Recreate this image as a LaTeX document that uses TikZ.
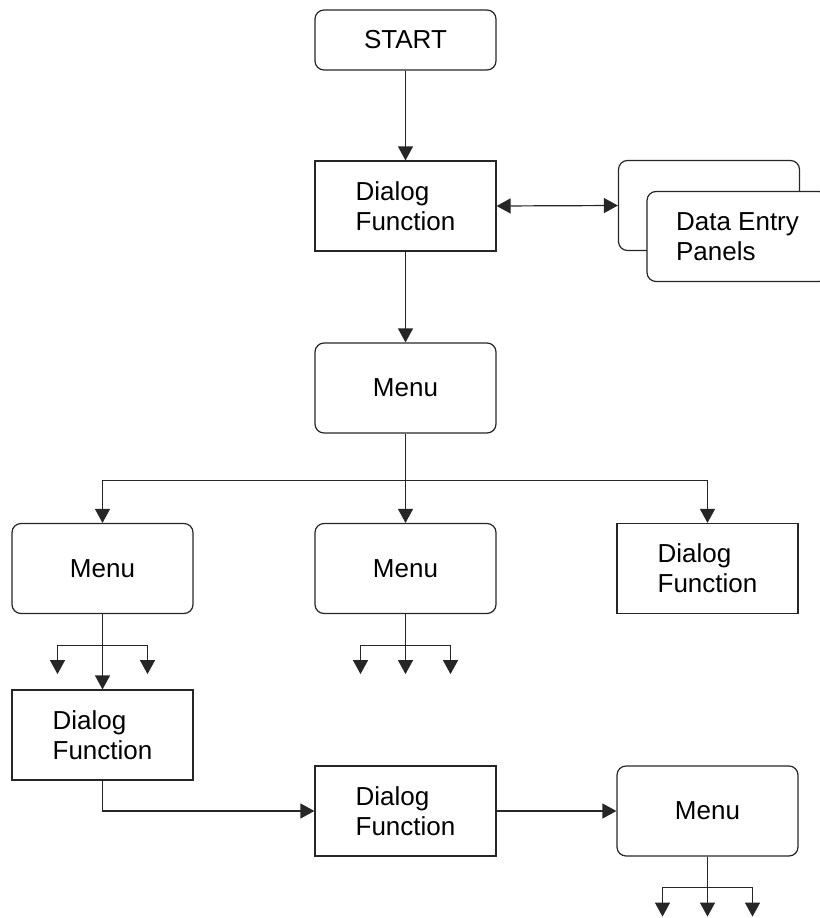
\documentclass[tikz,border=0pt]{standalone}
\usepackage{fontspec}
\setmainfont{Liberation Sans}
\usetikzlibrary{arrows.meta}

\begin{document}
\begin{tikzpicture}[x=1pt,y=-1pt,
  font=\fontsize{26}{30}\selectfont,
  line width=1.2pt,
  box/.style={draw=black!85,minimum width=181pt,minimum height=90pt,align=left,inner sep=0pt},
  menubox/.style={box,rounded corners=9pt},
  wire/.style={draw=black!85},
  arr/.style={wire,-{Triangle[width=15pt,length=14pt]}},
  dblarr/.style={wire,{Triangle[width=15pt,length=14pt]}-{Triangle[width=15pt,length=14pt]}}]

\useasboundingbox (0,0) rectangle (819,918);

%boxes
  \node[menubox,minimum height=60pt] (start) at (405.5,40) {START};
  \node[box] (dlgA) at (405.5,206) {Dialog\\Function};
  \node[menubox] (panelsback) at (709,205.5) {};
  \node[menubox,fill=white] (panels) at (737.5,236.5) {Data Entry\\Panels};
  \node[menubox] (menuA) at (405.5,388) {Menu};

  \node[menubox] (menuL) at (102.5,568.5) {Menu};
  \node[menubox] (menuC) at (405.5,568.5) {Menu};
  \node[box] (dlgR) at (707.5,568.5) {Dialog\\Function};

  \node[box] (dlgL) at (102.5,735) {Dialog\\Function};
  \node[box] (dlgB) at (405.5,811) {Dialog\\Function};
  \node[menubox] (menuB) at (707.5,811) {Menu};

%connectors
  \draw[arr] (start) -- (dlgA);
  \draw[dblarr] (dlgA.east) -- (panelsback.west);
  \draw[arr] (dlgA) -- (menuA);

  \draw[wire] (menuA.south) -- ++(0,47) coordinate (busA);
  \draw[arr] (busA) -| (menuL.north);
  \draw[arr] (busA) -- (menuC.north);
  \draw[arr] (busA) -| (dlgR.north);

%fan outs
  \foreach \m in {menuL,menuC,menuB} {
    \draw[arr] (\m.south) ++(0,31) -- ++(-45,0) -- ++(0,29);
    \draw[arr] (\m.south) ++(0,31) -- ++(45,0) -- ++(0,29); }
  \draw[arr] (menuL) -- (dlgL);
  \foreach \m in {menuC,menuB}
    \draw[arr] (\m.south) -- ++(0,60);

  \draw[arr] (dlgL.south) |- (dlgB.west);
  \draw[arr] (dlgB) -- (menuB);

\end{tikzpicture}
\end{document}
